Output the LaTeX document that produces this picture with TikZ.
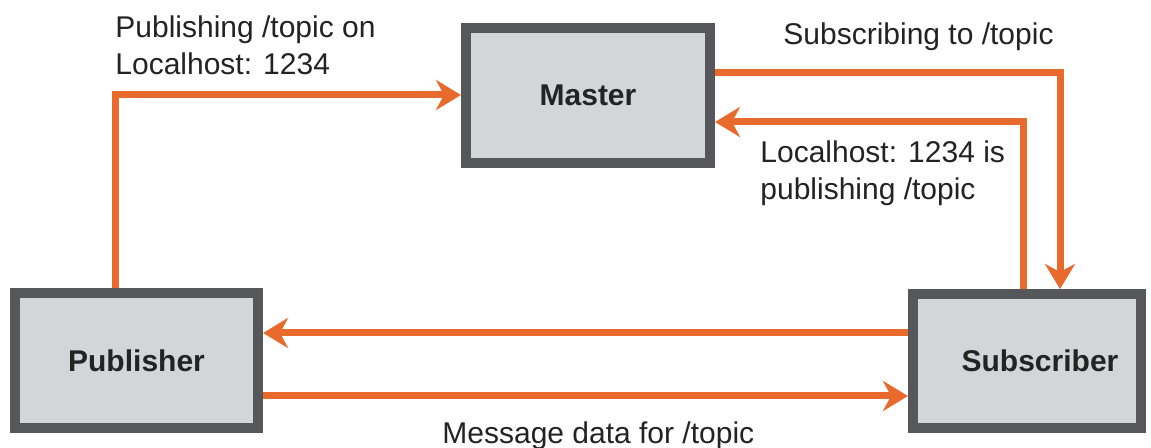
\documentclass[tikz,border=0pt]{standalone}
\usepackage{fontspec}
\setmainfont{Liberation Sans}
\usetikzlibrary{arrows.meta}
\definecolor{flow}{RGB}{232,106,44}
\definecolor{rim}{RGB}{85,87,90}
\definecolor{boxfill}{RGB}{212,213,217}
\definecolor{ink}{RGB}{35,35,35}
\begin{document}
\begin{tikzpicture}[x=0.5pt,y=-0.5pt,
  box/.style={draw=rim, line width=5pt, fill=boxfill, inner sep=0pt,
    font=\fontsize{15}{18}\selectfont\bfseries, text=ink},
  lbl/.style={font=\fontsize{15}{18.5}\selectfont, text=ink, inner sep=0pt, align=left},
  flowline/.style={draw=flow, line width=3.5pt},
  arr/.style={flowline, -{Stealth[length=12.5pt,width=15pt,inset=4pt]}}]
\useasboundingbox (0,0) rectangle (1151,448);
% boxes
\node[box, minimum width=122pt, minimum height=67.5pt] (master) at (588,95.5) {Master};
\node[box, minimum width=121.5pt, minimum height=67.5pt] (pub) at (136.5,360.5) {Publisher};
\node[box, minimum width=114pt, minimum height=67pt] (sub) at (1027,361) {\hspace*{13pt}Subscriber};
% helper coordinates
\coordinate (px) at (115,0);
\coordinate (my1) at (0,73);
\coordinate (my2) at (0,122);
\coordinate (sx1) at (1060,0);
\coordinate (sx2) at (1023,0);
\coordinate (hy1) at (0,333);
\coordinate (hy2) at (0,396);
% connectors
\draw[arr] (px |- pub.north) |- (master.west |- 0,95);
\draw[arr] (master.east |- my1) -| (sx1 |- sub.north);
\draw[arr] (sx2 |- sub.north) |- (master.east |- my2);
\draw[arr] (sub.west |- hy1) -- (pub.east |- hy1);
\draw[arr] (pub.east |- hy2) -- (sub.west |- hy2);
% labels
\node[lbl, anchor=north west] (l1) at (115,15.5) {Publishing /topic on\\Localhost: 1234};
\node[lbl, anchor=base west] (l2) at (783,45) {Subscribing to /topic};
\node[lbl, anchor=north west] (l3) at (760,140.5) {Localhost: 1234 is\\publishing /topic};
\node[lbl, anchor=base west] (l4) at (442,444) {Message data for /topic};
\end{tikzpicture}
\end{document}
